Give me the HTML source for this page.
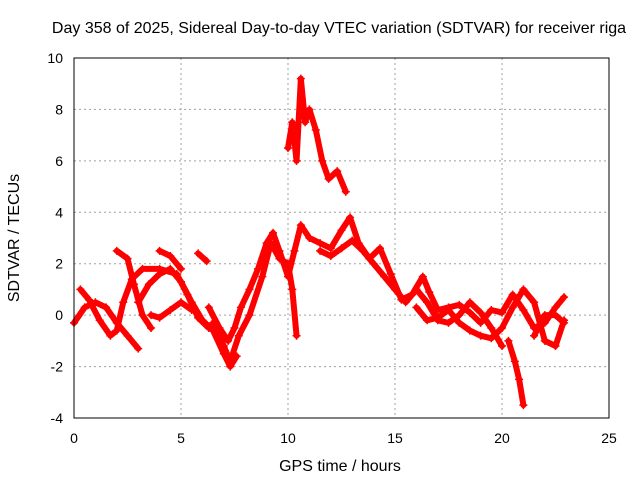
<!DOCTYPE html>
<html><head><meta charset="utf-8"><style>
body{margin:0;background:#fff}
svg{display:block;font-family:"Liberation Sans",sans-serif}
</style></head><body>
<svg id="chart" width="640" height="480">
<text x="339" y="33" font-size="16" text-anchor="middle">Day 358 of 2025, Sidereal Day-to-day VTEC variation (SDTVAR) for receiver riga</text>
<text x="340" y="471" font-size="16" text-anchor="middle">GPS time / hours</text>
<text transform="translate(19,238) rotate(-90)" font-size="16" text-anchor="middle">SDTVAR / TECUs</text>
<g id="grid"></g><g id="marks"></g><g id="axes"></g>
</svg>
<script>
const xTicks=[0,5,10,15,20,25];
const yTicks=[-4,-2,0,2,4,6,8,10];
const trackA=[[0,-0.3],[0.5,0.3],[1,0.5],[1.5,0.3],[2,-0.3],[2.5,-0.8],[3,-1.3]];
const trackB=[[0.3,1.0],[0.7,0.6],[1.2,-0.2],[1.7,-0.8],[2.0,-0.6],[2.3,0.5],[2.7,1.4],[3.2,1.8],[4,1.8],[4.8,1.6],[5.3,0.8],[5.8,-0.1],[6.3,-0.5]];
const trackC=[[2.0,2.5],[2.5,2.2],[2.8,1.2],[3.2,0],[3.6,-0.5]];
const trackD=[[3.0,0.5],[3.5,1.2],[4,1.6],[4.5,1.8],[5,1.3],[5.5,0.5],[6,-0.2],[6.5,-0.6],[7,-1.5],[7.3,-2.0],[7.6,-1.6]];
const trackE=[[3.6,0],[4,-0.1],[4.5,0.2],[5,0.5],[5.5,0.2]];
const trackF=[[4,2.5],[4.5,2.3],[5,1.8]];
const trackF2=[[5.8,2.4],[6.2,2.1]];
const trackG=[[6.3,0.3],[6.8,-0.5],[7.2,-1.0],[7.5,-0.5],[7.8,0.3],[8.2,1.0],[8.6,1.8],[9,2.8],[9.3,3.2],[9.6,2.5],[10,1.5],[10.3,2.5],[10.6,3.5],[11,3.0],[11.5,2.8],[12,2.6],[12.5,3.3],[12.9,3.8],[13.3,2.8],[13.8,2.2],[14.3,2.6],[14.8,1.6],[15.3,0.6],[15.8,0.8],[16.3,1.5],[16.6,0.9],[17,0.2],[17.5,0.3],[18,0.4],[18.5,0.1],[19,-0.3],[19.5,0.2],[20,0.1],[20.5,0.8],[21,0.2],[21.5,-0.5],[22,-0.3],[22.5,0.3],[22.9,0.7]];
const trackH=[[6.5,-0.3],[7,-1.2],[7.3,-1.8],[7.7,-0.8],[8.2,0],[8.8,1.5],[9.2,2.8],[9.6,2.2],[10,2.0],[10.2,1.0],[10.4,-0.8]];
const trackI=[[10,6.5],[10.2,7.5],[10.4,6.0],[10.6,9.2],[10.8,7.5],[11,8.0],[11.3,7.2],[11.6,6.0],[11.9,5.3],[12.3,5.6],[12.7,4.8]];
const trackJ=[[11.5,2.5],[12,2.3],[12.5,2.6],[13,2.9],[13.5,2.5],[14,2.0],[14.5,1.5],[15,1.0],[15.5,0.5],[16,1.0],[16.5,0.5],[17,-0.2],[17.5,-0.3],[18,0],[18.5,0.5],[19,0.1],[19.5,-0.5],[20,-1.2]];
const trackK=[[16,0.3],[16.5,-0.2],[17,-0.1],[17.5,0.2],[18,-0.3],[18.5,-0.6],[19,-0.8],[19.5,-0.9],[20,-0.5],[20.5,0.3],[21,1.0],[21.5,0.5],[22,-1.0],[22.5,-1.2],[22.9,-0.2]];
const trackL=[[20.3,-1.0],[20.6,-1.8],[20.8,-2.5],[21,-3.5]];
const trackM=[[21.5,-0.8],[22,0],[22.5,0.0],[22.9,-0.3]];
const tracks=[trackA,trackB,trackC,trackD,trackE,trackF,trackF2,trackG,trackH,trackI,trackJ,trackK,trackL,trackM];

const X0=74,X1=609,Y0=418,Y1=58;
const xs=v=>X0+(v-0)/(25-0)*(X1-X0);
const ys=v=>Y0-(v+4)/(14)*(Y0-Y1);
const NS="http://www.w3.org/2000/svg";
function mk(tag,attrs,parent){const e=document.createElementNS(NS,tag);for(const k in attrs)e.setAttribute(k,attrs[k]);parent.appendChild(e);return e;}
const grid=document.getElementById('grid'),axes=document.getElementById('axes'),marks=document.getElementById('marks');
xTicks.forEach(t=>{
 const x=xs(t);
 if(t>0&&t<25){const g=mk('line',{x1:x,x2:x,y1:Y1,y2:Y0,stroke:'#a0a0a0','stroke-dasharray':'2,3'},grid);
 
 }
 const tx=mk('text',{x:x,y:443,'font-size':14,'text-anchor':'middle'},axes);tx.textContent=t;
 
 
});
yTicks.forEach(t=>{
 const y=ys(t);
 if(t>-4&&t<10){const g=mk('line',{x1:X0,x2:X1,y1:y,y2:y,stroke:'#a0a0a0','stroke-dasharray':'2,3'},grid);
 
 }
 const tx=mk('text',{x:63,y:y+5,'font-size':14,'text-anchor':'end'},axes);tx.textContent=t;
 
 
});
const fr=mk('rect',{x:X0,y:Y1,width:X1-X0,height:Y0-Y1,fill:'none',stroke:'#000','stroke-width':1},axes);


tracks.forEach(tr=>{
 const p=mk('polyline',{points:tr.map(d=>xs(d[0])+','+ys(d[1])).join(' '),fill:'none',stroke:'#ff0000','stroke-width':6,'stroke-linejoin':'round','stroke-linecap':'round'},marks);
 
 
 tr.forEach(d=>{
  const x=xs(d[0]),y=ys(d[1]);
  const m=mk('path',{d:`M${x-4},${y}H${x+4}M${x},${y-4}V${y+4}`,stroke:'#ff0000','stroke-width':1.5},marks);
  
  
 });
});
</script>
</body></html>
